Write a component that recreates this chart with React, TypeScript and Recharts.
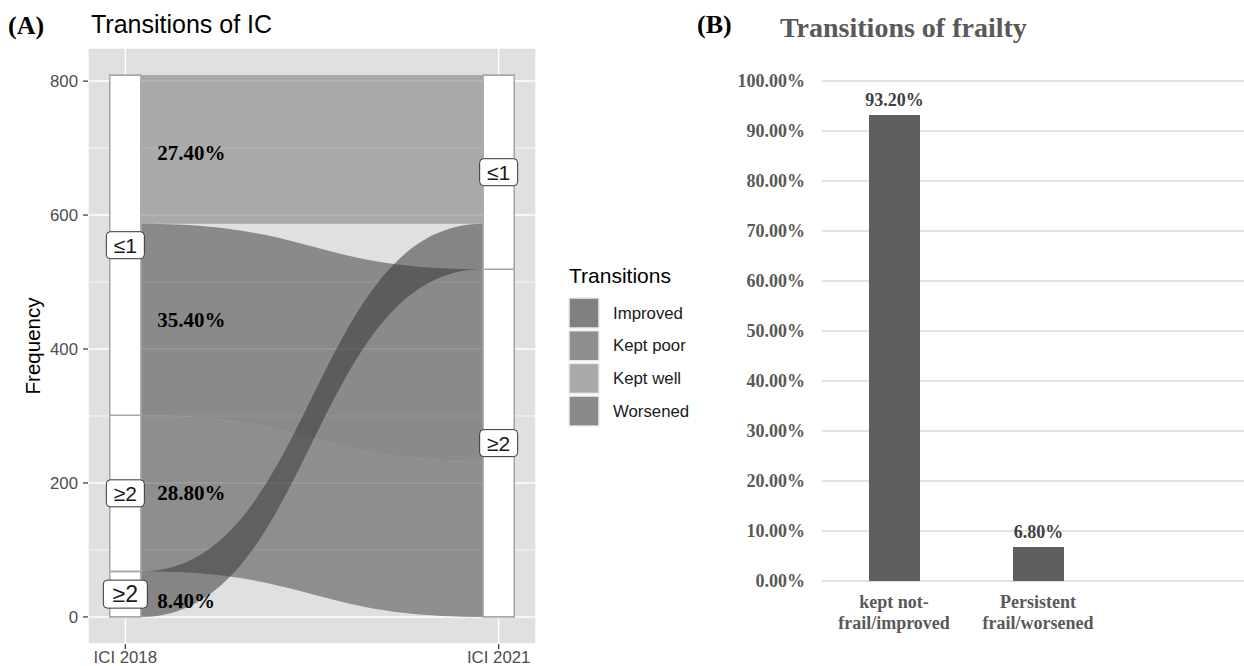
import React from "react";
import {
  ComposedChart,
  Area,
  XAxis,
  YAxis,
  CartesianGrid,
  ReferenceArea,
  ReferenceDot,
  BarChart,
  Bar,
  LabelList,
} from "recharts";

const SANS = "'Liberation Sans', Arial, sans-serif";
const SERIF = "'Liberation Serif', 'Times New Roman', serif";

// ---- (A) transitions of IC between the two waves ----
const waves = ["ICI 2018", "ICI 2021"];
const transitions = ["Improved", "Kept poor", "Kept well", "Worsened"];
const transitionCounts = [68, 233, 222, 286];
const transitionShares = ["8.40%", "28.80%", "27.40%", "35.40%"];
// stacking order of the lodes, bottom to top
const stackOrder2018 = ["Improved", "Kept poor", "Worsened", "Kept well"];
const stackOrder2021 = ["Kept poor", "Worsened", "Improved", "Kept well"];
// strata on each axis (bottom to top) and the lodes they hold
const strata2018Labels = ["≥2", "≥2", "≤1"];
const strata2018Members = [["Improved"], ["Kept poor"], ["Worsened", "Kept well"]];
const strata2021Labels = ["≥2", "≤1"];
const strata2021Members = [["Kept poor", "Worsened"], ["Improved", "Kept well"]];
const freqTicks = [0, 200, 400, 600, 800];
const freqMinor = [100, 300, 500, 700];

// ---- (B) transitions of frailty ----
const frailtyCategories = ["kept not-frail/improved", "Persistent frail/worsened"];
const frailtyTickLines = [
  ["kept not-", "frail/improved"],
  ["Persistent", "frail/worsened"],
];
const frailtyShare = [93.2, 6.8];
const frailtyTicks = [0, 10, 20, 30, 40, 50, 60, 70, 80, 90, 100];

// styles
const flowFill = ["#2a2a2a", "#3c3c3c", "#727272", "#343434"];
const legendFill = ["#808080", "#8e8e8e", "#a9a9a9", "#8a8a8a"];
const shareNudge = [7, 0, 0, 4]; // px, in stackOrder2018 order

const STRATUM_W = 1 / 12;
const total = transitionCounts.reduce((a, b) => a + b, 0);

function stackLodes(order: string[]) {
  const out: Record<string, [number, number]> = {};
  let acc = 0;
  order.forEach((name) => {
    const n = transitionCounts[transitions.indexOf(name)];
    out[name] = [acc, acc + n];
    acc += n;
  });
  return out;
}

const lodes2018 = stackLodes(stackOrder2018);
const lodes2021 = stackLodes(stackOrder2021);

function strataRanges(members: string[][], lodes: Record<string, [number, number]>) {
  return members.map((m) => {
    const lo = Math.min(...m.map((t) => lodes[t][0]));
    const hi = Math.max(...m.map((t) => lodes[t][1]));
    return [lo, hi] as [number, number];
  });
}

const strata = [
  { pos: 1, labels: strata2018Labels, ranges: strataRanges(strata2018Members, lodes2018) },
  { pos: 2, labels: strata2021Labels, ranges: strataRanges(strata2021Members, lodes2021) },
];

const flowRows = [
  { x: 1 + STRATUM_W / 2, lodes: lodes2018 },
  { x: 2 - STRATUM_W / 2, lodes: lodes2021 },
];

const pad = total * 0.05;
const shareLabelX = 1 + STRATUM_W / 2 + 0.044;

const frailtyData = frailtyCategories.map((name, i) => ({ name, share: frailtyShare[i] }));

function StratumLabel(props: any) {
  const { cx, cy, text, big } = props;
  const w = big ? 44 : 38;
  const h = big ? 28 : 27;
  return (
    <g>
      <rect x={cx - w / 2} y={cy - h / 2} width={w} height={h} rx={4} ry={4} fill="#ffffff" stroke="#333333" strokeWidth={1} />
      <text x={cx} y={cy} textAnchor="middle" dominantBaseline="central" fontFamily={SANS} fontSize={big ? 23 : 21} fill="#1a1a1a">
        {text}
      </text>
    </g>
  );
}

function FrailtyTick(props: any) {
  const { x, y, payload } = props;
  const lines = frailtyTickLines[frailtyCategories.indexOf(payload.value)] || [payload.value];
  return (
    <text x={x} y={y} textAnchor="middle" fontFamily={SERIF} fontWeight="bold" fontSize={18} fill="#595959">
      {lines.map((l, i) => (
        <tspan key={i} x={x} dy={i === 0 ? 27 : 21}>
          {l}
        </tspan>
      ))}
    </text>
  );
}

export default function App() {
  return (
    <div style={{ position: "absolute", left: 0, top: 0, width: 1244, height: 666, overflow: "hidden", background: "#ffffff" }}>
      <div style={{ position: "absolute", left: 0, top: 0 }}>
        <ComposedChart width={560} height={666} data={flowRows} margin={{ top: 48, right: 24, bottom: 0, left: 0 }}>
          <CartesianGrid fill="#e0e0e0" stroke="#ffffff" strokeWidth={1.5} />
          <CartesianGrid horizontalValues={freqMinor} vertical={false} stroke="#ffffff" strokeWidth={0.7} />
          <XAxis
            dataKey="x"
            type="number"
            domain={[0.9, 2.1]}
            allowDataOverflow
            ticks={[1, 2]}
            tickFormatter={(v) => waves[Math.round(v) - 1]}
            axisLine={false}
            tickSize={5}
            tickMargin={2}
            height={22}
            tickLine={{ stroke: "#333333", strokeWidth: 1.2 }}
            tick={{ fontFamily: SANS, fontSize: 16.8, fill: "#4d4d4d" }}
          />
          <YAxis
            type="number"
            domain={[-pad, total + pad]}
            allowDataOverflow
            ticks={freqTicks}
            width={88}
            axisLine={false}
            tickSize={5}
            tickMargin={5}
            tickLine={{ stroke: "#333333", strokeWidth: 1.2 }}
            tick={{ fontFamily: SANS, fontSize: 16.8, fill: "#4d4d4d" }}
          />
          {transitions.map((t, i) => (
            <Area
              key={t}
              dataKey={(d: any) => d.lodes[t]}
              name={t}
              type="bumpX"
              fill={flowFill[i]}
              fillOpacity={0.5}
              stroke="none"
              isAnimationActive={false}
              dot={false}
              activeDot={false}
            />
          ))}
          {strata.map((s) =>
            s.ranges.map((r, j) => (
              <ReferenceArea
                key={`s${s.pos}-${j}`}
                x1={s.pos - STRATUM_W / 2}
                x2={s.pos + STRATUM_W / 2}
                y1={r[0]}
                y2={r[1]}
                fill="#ffffff"
                fillOpacity={1}
                stroke="#a8a8a8"
                strokeWidth={1.6}
                ifOverflow="visible"
                zIndex={150}
              />
            ))
          )}
          {strata.map((s) =>
            s.ranges.map((r, j) => (
              <ReferenceDot
                key={`l${s.pos}-${j}`}
                x={s.pos}
                y={(r[0] + r[1]) / 2}
                r={0}
                ifOverflow="visible"
                zIndex={2100}
                shape={(p: any) => <StratumLabel cx={p.cx} cy={p.cy} text={s.labels[j]} big={s.pos === 1 && j === 0} />}
              />
            ))
          )}
          {stackOrder2018.map((t, k) => {
            const lode = lodes2018[t];
            return (
              <ReferenceDot
                key={`p${t}`}
                x={shareLabelX}
                y={(lode[0] + lode[1]) / 2}
                r={0}
                ifOverflow="visible"
                zIndex={2100}
                shape={(p: any) => (
                  <text x={p.cx} y={p.cy + shareNudge[k]} dominantBaseline="central" fontFamily={SERIF} fontWeight="bold" fontSize={21} fill="#000000">
                    {transitionShares[transitions.indexOf(t)]}
                  </text>
                )}
              />
            );
          })}
        </ComposedChart>
      </div>

      <div style={{ position: "absolute", left: 690, top: 0 }}>
        <BarChart width={564} height={666} data={frailtyData} margin={{ top: 81, right: 0, bottom: 0, left: 0 }}>
          <CartesianGrid vertical={false} stroke="#d9d9d9" strokeWidth={1.3} />
          <XAxis
            dataKey="name"
            padding={{ left: 0, right: 144 }}
            axisLine={false}
            tickLine={false}
            tickSize={0}
            tickMargin={0}
            height={85}
            interval={0}
            tick={<FrailtyTick />}
          />
          <YAxis
            domain={[0, 100]}
            ticks={frailtyTicks}
            width={132}
            axisLine={false}
            tickLine={false}
            tickSize={0}
            tickMargin={17}
            tickFormatter={(v) => `${Number(v).toFixed(2)}%`}
            tick={{ fontFamily: SERIF, fontWeight: "bold", fontSize: 18, fill: "#595959" }}
          />
          <Bar dataKey="share" fill="#5f5f5f" barSize={51} isAnimationActive={false}>
            <LabelList
              dataKey="share"
              position="top"
              offset={9}
              formatter={(v: any) => `${Number(v).toFixed(2)}%`}
              style={{ fontFamily: SERIF, fontWeight: "bold", fontSize: 18, fill: "#404040" }}
            />
          </Bar>
        </BarChart>
      </div>

      <svg width={1244} height={666} style={{ position: "absolute", left: 0, top: 0, pointerEvents: "none" }}>
        <text x={8} y={34} fontFamily={SERIF} fontWeight="bold" fontSize={26} fill="#000000">(A)</text>
        <text x={91} y={33} fontFamily={SANS} fontSize={25} fill="#000000">Transitions of IC</text>
        <text x={40} y={346} transform="rotate(-90 40 346)" textAnchor="middle" fontFamily={SANS} fontSize={20.5} fill="#000000">
          Frequency
        </text>
        <text x={569} y={283} fontFamily={SANS} fontSize={21} fill="#000000">Transitions</text>
        {transitions.map((t, i) => (
          <g key={t}>
            <rect x={569} y={298 + i * 32.7} width={30} height={30} fill={legendFill[i]} stroke="#ececec" strokeWidth={1.5} />
            <text x={613} y={298 + i * 32.7 + 15} dominantBaseline="central" fontFamily={SANS} fontSize={16.8} fill="#1a1a1a">
              {t}
            </text>
          </g>
        ))}
        <text x={697} y={33} fontFamily={SERIF} fontWeight="bold" fontSize={26} fill="#000000">(B)</text>
        <text x={780} y={37} fontFamily={SERIF} fontWeight="bold" fontSize={28} fill="#595959">Transitions of frailty</text>
      </svg>
    </div>
  );
}
